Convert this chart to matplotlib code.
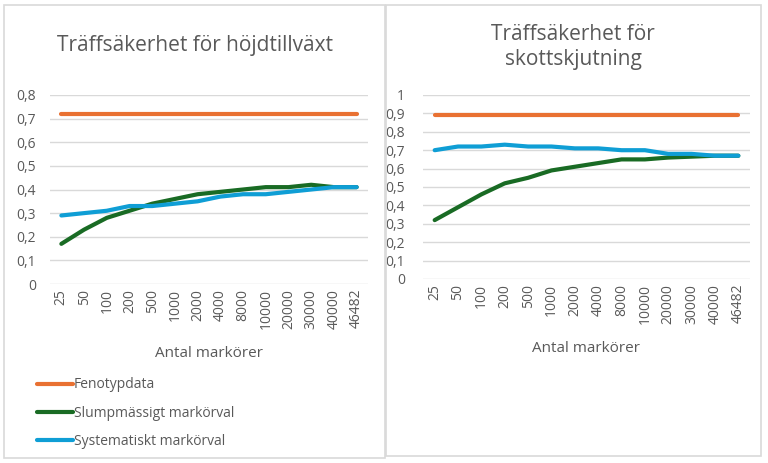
import matplotlib
matplotlib.use("Agg")
import matplotlib.pyplot as plt
from matplotlib.patches import Rectangle

plt.rcParams['font.family'] = ['Open Sans', 'DejaVu Sans']

markorer = ['25', '50', '100', '200', '500', '1000', '2000', '4000', '8000',
            '10000', '20000', '30000', '40000', '46482']

# höjdtillväxt
hojd_feno = [0.72] * 14
hojd_slump = [0.17, 0.23, 0.28, 0.31, 0.34, 0.36, 0.38, 0.39, 0.40, 0.41, 0.41, 0.42, 0.41, 0.41]
hojd_syst = [0.29, 0.30, 0.31, 0.33, 0.33, 0.34, 0.35, 0.37, 0.38, 0.38, 0.39, 0.40, 0.41, 0.41]

# skottskjutning
skott_feno = [0.89] * 14
skott_slump = [0.32, 0.39, 0.46, 0.52, 0.55, 0.59, 0.61, 0.63, 0.65, 0.65, 0.66, 0.665, 0.67, 0.67]
skott_syst = [0.70, 0.72, 0.72, 0.73, 0.72, 0.72, 0.71, 0.71, 0.70, 0.70, 0.68, 0.68, 0.67, 0.67]

orange = '#E97132'
gron = '#196B24'
bla = '#0F9ED5'
gra = '#595959'
grid = '#D9D9D9'

W, H = 768, 463
fig = plt.figure(figsize=(W / 100, H / 100), dpi=100)

# ramar runt diagrammen
for (x0, y0, x1, y1) in [(4, 5, 385, 458), (386, 5, 761, 456)]:
    fig.add_artist(Rectangle((x0 / W, 1 - y1 / H), (x1 - x0) / W, (y1 - y0) / H,
                             transform=fig.transFigure, fill=False,
                             edgecolor=grid, lw=1.2))


def rita(ax, feno, slump, syst, ymax, yticks, ylabels, ypad):
    x = range(len(markorer))
    ax.plot(x, feno, color=orange, lw=3, solid_capstyle='round', label='Fenotypdata')
    ax.plot(x, slump, color=gron, lw=3, solid_capstyle='round', label='Slumpmässigt markörval')
    ax.plot(x, syst, color=bla, lw=3, solid_capstyle='round', label='Systematiskt markörval')
    ax.set_xlim(-0.5, len(markorer) - 0.5)
    ax.set_ylim(0, ymax)
    ax.set_yticks(yticks)
    ax.set_yticklabels(ylabels)
    ax.set_xticks(list(x))
    ax.set_xticklabels(markorer, rotation=90)
    for s in ax.spines.values():
        s.set_visible(False)
    ax.grid(axis='y', color=grid, lw=1)
    ax.set_axisbelow(True)
    ax.tick_params(length=0, colors=gra, labelsize=10)
    ax.tick_params(axis='y', pad=ypad)
    ax.set_xlabel('Antal markörer', color=gra, fontsize=11)


ax1 = fig.add_axes([50 / W, 1 - 284 / H, 318 / W, 189 / H])
rita(ax1, hojd_feno, hojd_slump, hojd_syst, 0.8,
     [i / 10 for i in range(9)], ['0'] + [f'0,{i}' for i in range(1, 9)], 10)
ax1.xaxis.labelpad = 12
fig.text(195 / W, 1 - 46 / H, 'Träffsäkerhet för höjdtillväxt', ha='center', va='center',
         color=gra, fontsize=15)

ax2 = fig.add_axes([423 / W, 1 - 279 / H, 327 / W, 184 / H])
rita(ax2, skott_feno, skott_slump, skott_syst, 1.0,
     [i / 10 for i in range(11)], ['0'] + [f'0,{i}' for i in range(1, 10)] + ['1'], 13)
ax2.xaxis.labelpad = 12
fig.text(573 / W, 1 - 47 / H, 'Träffsäkerhet för\nskottskjutning', ha='center', va='center',
         color=gra, fontsize=15, linespacing=1.25)

h, l = ax1.get_legend_handles_labels()
fig.legend(h, l, loc='upper left', bbox_to_anchor=(24 / W, 1 - 365 / H), frameon=False,
           handlelength=2.6, handletextpad=0.1, labelspacing=0.95, fontsize=10,
           labelcolor=gra)

fig.savefig('out.png', dpi=100, facecolor='white')
